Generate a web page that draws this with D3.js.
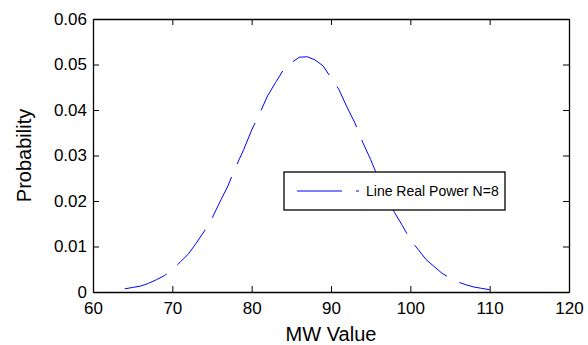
<!DOCTYPE html>
<html>
<head>
<meta charset="utf-8">
<script src="https://cdn.jsdelivr.net/npm/d3@7"></script>
<style>
  body { margin: 0; background: #fff; }
  svg text { font-family: "Liberation Sans", Arial, sans-serif; fill: #000; }
</style>
</head>
<body>
<div id="chart"></div>
<script>
// data
var mwValues = [64,65,66,67,68,69,70,71,72,73,74,75,76,77,78,79,80,81,82,83,84,85,86,87,
                88,89,90,91,92,93,94,95,96,97,98,99,100,101,102,103,104,105,106,107,108,109,110];
var probValues = [0.0007,0.0010,0.0013,0.0019,0.0027,0.0036,0.0049,0.0066,0.0083,0.0107,0.0133,0.0162,
                  0.0198,0.0233,0.0275,0.0313,0.0356,0.0392,0.0431,0.0460,0.0488,0.0504,0.0516,0.0517,
                  0.0510,0.0497,0.0471,0.0445,0.0407,0.0372,0.0329,0.0291,0.0248,0.0213,0.0175,0.0146,
                  0.0115,0.0093,0.0071,0.0056,0.0041,0.0031,0.0022,0.0016,0.0011,0.0008,0.0005];
var xTicks = [60,70,80,90,100,110,120];
var yTicks = [0,0.01,0.02,0.03,0.04,0.05,0.06];
var seriesName = "Line Real Power N=8";

var W = 588, H = 345;
var margin = {top: 19, right: 19, bottom: 53, left: 93},
    width = W - margin.left - margin.right,
    height = H - margin.top - margin.bottom;

var svg = d3.select("#chart").append("svg")
    .attr("width", W)
    .attr("height", H);

var g = svg.append("g")
    .attr("transform", "translate(" + margin.left + "," + margin.top + ")");

var x = d3.scaleLinear().domain([60, 120]).range([0, width]);
var y = d3.scaleLinear().domain([0, 0.06]).range([height, 0]);

var fontSize = 17;
var tickLen = 6;

// axes (ticks inward, MATLAB box)
var xAxis = g.append("g").attr("transform", "translate(0," + height + ")")
    .call(d3.axisBottom(x).tickValues(xTicks).tickSizeInner(-tickLen).tickSizeOuter(0).tickPadding(10));
var xTop = g.append("g")
    .call(d3.axisTop(x).tickValues(xTicks).tickSizeInner(-tickLen).tickSizeOuter(0).tickFormat(""));
var yAxis = g.append("g")
    .call(d3.axisLeft(y).tickValues(yTicks).tickSizeInner(-tickLen).tickSizeOuter(0).tickPadding(6)
      .tickFormat(function(d) { return d === 0 ? "0" : d3.format(".2f")(d); }));
var yRight = g.append("g").attr("transform", "translate(" + width + ",0)")
    .call(d3.axisRight(y).tickValues(yTicks).tickSizeInner(-tickLen).tickSizeOuter(0).tickFormat(""));

[xAxis, xTop, yAxis, yRight].forEach(function(a) {
  a.select(".domain").attr("stroke", "#000").attr("stroke-width", 1.3);
  a.selectAll(".tick line").attr("stroke", "#000").attr("stroke-width", 1);
  a.selectAll("text").attr("font-size", fontSize).attr("font-family", null);
});

// curve
var line = d3.line()
    .x(function(d, i) { return x(mwValues[i]); })
    .y(function(d) { return y(d); });

g.append("path")
    .datum(probValues)
    .attr("fill", "none")
    .attr("stroke", "#0000ff")
    .attr("stroke-width", 1)
    .attr("stroke-dasharray", "45,14")
    .attr("d", line);

// axis labels
svg.append("text")
    .attr("x", margin.left + width / 2)
    .attr("y", 341)
    .attr("text-anchor", "middle")
    .attr("font-size", 20)
    .text("MW Value");

svg.append("text")
    .attr("transform", "translate(31," + (margin.top + height / 2) + ") rotate(-90)")
    .attr("text-anchor", "middle")
    .attr("font-size", 20)
    .text("Probability");

// legend
var legend = svg.append("g").attr("transform", "translate(284,172)");
legend.append("rect")
    .attr("width", 221)
    .attr("height", 38)
    .attr("fill", "#fff")
    .attr("stroke", "#000")
    .attr("stroke-width", 1.3);
legend.append("line")
    .attr("x1", 13).attr("x2", 75)
    .attr("y1", 19).attr("y2", 19)
    .attr("stroke", "#0000ff")
    .attr("stroke-width", 1)
    .attr("stroke-dasharray", "45,14");
legend.append("text")
    .attr("x", 82)
    .attr("y", 19)
    .attr("dy", "0.35em")
    .attr("font-size", 14)
    .text(seriesName);
</script>
</body>
</html>
